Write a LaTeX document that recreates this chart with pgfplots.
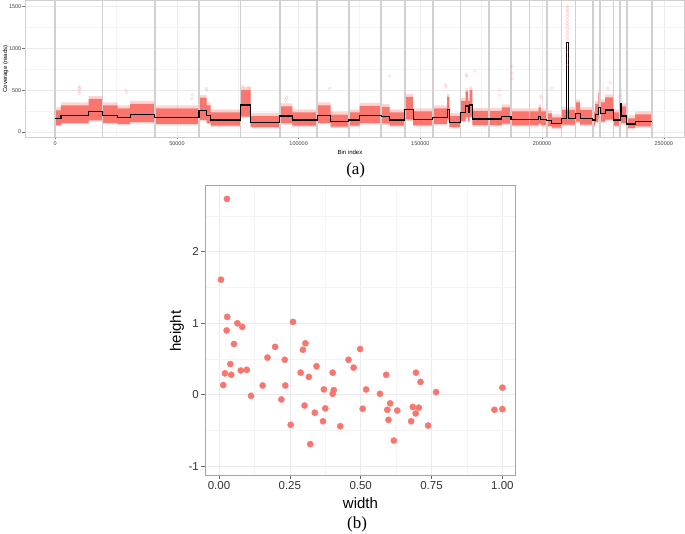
\documentclass[border=0pt]{standalone}
\usepackage{pgfplots}
\pgfplotsset{compat=1.18}
\usepackage{pgfplotstable}
\usepgfplotslibrary{fillbetween}
\usepackage{fontspec}
\setmainfont{Liberation Sans}
\newfontfamily\timesfont{Liberation Serif}
\definecolor{ggred}{HTML}{F8766D}
\definecolor{gridmaj}{HTML}{EBEBEB}
\definecolor{gridmin}{HTML}{F4F4F4}
\definecolor{bline}{HTML}{D0D0D0}
\definecolor{frameA}{HTML}{CFCFCF}
\definecolor{frameB}{HTML}{A6A6A6}

\pgfplotstableread{
x lo hi lo2 hi2
0 86 260 70 295
2340 110 320 94 355
13700 140 395 124 430
19440 110 320 94 355
25600 96 284 80 319
30770 117 337 101 372
40900 96 284 80 319
59070 146 410 130 445
62230 110 320 94 355
63870 76 235 60 270
76170 184 505 168 540
80280 60 194 44 229
92300 105 307 89 342
97380 76 235 60 270
107640 110 320 94 355
113100 65 208 49 243
120600 76 235 60 270
125000 107 313 91 348
133890 102 301 86 336
137400 76 235 60 270
143570 150 421 134 456
147000 81 248 65 283
155060 96 284 80 319
160960 150 421 134 456
161900 60 194 44 229
166540 131 373 115 408
168600 177 487 161 522
169600 131 373 115 408
170240 184 505 168 540
171340 83 253 67 288
183500 100 295 84 330
187220 81 248 65 283
198550 100 295 84 330
199520 81 248 65 283
201980 71 223 55 258
204030 52 176 36 211
207970 88 266 72 301
213720 124 355 108 390
215640 88 266 72 301
220850 76 235 60 270
221800 117 337 101 372
223150 169 467 153 502
223850 124 355 108 390
225900 148 415 132 450
229300 76 235 60 270
232050 196 535 180 570
232500 105 307 89 342
234800 48 164 32 199
238200 67 212 51 247
245060 67 212 51 247
}\band

\pgfplotstableread{
x y
0 160
2340 200
13700 250
19440 200
25600 176
30770 211
40900 176
59070 260
62230 200
63870 143
76170 323
80280 116
92300 191
97380 143
107640 200
113100 125
120600 143
125000 195
133890 187
137400 143
143570 267
147000 152
155060 176
160960 267
161900 116
166540 235
168600 311
169600 235
170240 323
171340 155
183500 183
187220 152
198550 183
199520 152
201980 135
204030 104
207970 164
210180 1073
210720 164
213720 223
215640 164
220850 143
221800 211
223150 298
223850 223
225900 263
229300 143
232050 343
232500 191
234800 96
238200 128
245060 128
}\steps

\pgfplotstableread{
x y
9850 542
9850 520
9900 490
9800 465
29000 502
29200 470
56360 447
56000 400
62100 523
62300 500
77100 550
79600 530
94600 383
95000 410
112800 522
137400 670
160400 562
160500 540
168900 682
169000 670
172300 730
182400 502
182400 442
187600 790
187700 700
187600 640
199600 430
199600 407
204000 522
227950 590
227000 520
232000 430
210400 1500
210450 1470
210350 1440
210500 1410
210400 1380
210450 1340
210380 1300
210500 1270
210420 1230
210460 1190
210400 1150
210450 1110
210350 960
210500 880
210420 800
}\outl

\pgfplotstableread{
x y
0.028 2.74
0.007 1.61
0.029 1.09
0.027 0.90
0.065 1.00
0.082 0.95
0.053 0.71
0.040 0.43
0.021 0.30
0.043 0.28
0.077 0.34
0.098 0.35
0.015 0.136
0.113 -0.014
0.154 0.13
0.171 0.52
0.198 0.67
0.220 -0.065
0.232 0.49
0.234 0.13
0.253 -0.42
0.261 1.02
0.288 0.31
0.296 0.63
0.305 0.72
0.302 -0.15
0.317 0.25
0.322 -0.69
0.338 -0.25
0.344 0.40
0.367 -0.37
0.370 0.075
0.375 -0.19
0.401 0.31
0.401 0.014
0.405 0.066
0.428 -0.44
0.457 0.49
0.475 0.38
0.498 0.64
0.507 -0.195
0.519 0.075
0.568 0.014
0.590 0.28
0.594 -0.21
0.598 -0.35
0.604 -0.12
0.617 -0.64
0.629 -0.22
0.678 -0.37
0.684 -0.17
0.694 -0.26
0.695 0.31
0.705 -0.18
0.711 0.18
0.738 -0.43
0.766 0.038
0.972 -0.21
1.0 0.10
1.0 -0.20
}\scat

\begin{document}
\begin{tikzpicture}
% ---------- panel (a)
\begin{axis}[
  at={(25pt,-137pt)}, anchor=south west,
  scale only axis, width=659pt, height=137pt,
  xmin=-12430, xmax=258300, ymin=-60, ymax=1580,
  scaled ticks=false,
  xtick={0,50000,100000,150000,200000,250000},
  xticklabels={0,50000,100000,150000,200000,250000},
  ytick={0,500,1000,1500}, yticklabels={0,500,1000,1500},
  minor xtick={25000,75000,125000,175000,225000},
  minor ytick={250,750,1250},
  grid=both,
  major grid style={gridmaj, line width=0.5pt},
  minor grid style={gridmin, line width=0.4pt},
  axis line style={frameA, line width=0.7pt},
  tick align=outside, tick pos=left,
  major tick length=2.5pt, minor tick length=0pt,
  tick style={black!55, line width=0.5pt},
  ticklabel style={font=\fontsize{5.5}{6.5}\selectfont, text=black!75},
  xticklabel style={inner sep=1.5pt},
  yticklabel style={inner sep=1pt},
]
\addplot[const plot, draw=none, name path=H2, forget plot] table[x=x, y=hi2] {\band};
\addplot[const plot, draw=none, name path=L2, forget plot] table[x=x, y=lo2] {\band};
\addplot[const plot, draw=none, name path=H, forget plot] table[x=x, y=hi] {\band};
\addplot[const plot, draw=none, name path=L, forget plot] table[x=x, y=lo] {\band};
\addplot[fill=ggred, fill opacity=0.3, draw=none] fill between[of=H2 and L2];
\addplot[fill=ggred, draw=none] fill between[of=H and L];
\addplot[only marks, mark=o, mark size=1.5pt, color=ggred, opacity=0.35, mark options={line width=0.4pt}] table {\outl};
\pgfplotsinvokeforeach{0,19440,40900,59070,76170,92300,107640,120600,133890,143570,155060,166540,178310,187220,194850,201980,207970,213720,220850,223850,229300,232050,234800,245060}{
  \addplot[draw=bline, line width=1.6pt, mark=none, forget plot] coordinates {(#1,-60) (#1,1580)};
}
\addplot[const plot, draw=black, mark=none, line width=1.1pt] table {\steps};
\end{axis}
\node[font=\fontsize{6}{7}\selectfont, text=black] at (350pt,-152.3pt) {Bin index};
\node[font=\fontsize{6}{7}\selectfont, text=black, rotate=90] at (5.5pt,-69pt) {Coverage (reads)};
\node[font=\timesfont\fontsize{17}{20}\selectfont] at (355.7pt,-170pt) {(a)};
% ---------- panel (b)
\begin{axis}[
  at={(205pt,-475.3pt)}, anchor=south west,
  scale only axis, width=310.7pt, height=290pt,
  xmin=-0.0494, xmax=1.047, ymin=-1.126, ymax=2.93,
  xtick={0,0.25,0.5,0.75,1}, xticklabels={0.00,0.25,0.50,0.75,1.00},
  ytick={-1,0,1,2}, yticklabels={-1,0,1,2},
  minor xtick={0.125,0.375,0.625,0.875},
  minor ytick={-0.5,0.5,1.5,2.5},
  grid=both,
  major grid style={gridmaj, line width=0.6pt},
  minor grid style={gridmin, line width=0.5pt},
  axis line style={frameB, line width=0.8pt},
  tick align=outside, tick pos=left,
  major tick length=4pt, minor tick length=0pt,
  tick style={black!60, line width=0.6pt},
  ticklabel style={font=\fontsize{11.5}{13}\selectfont, text=black!80},
  xticklabel style={inner sep=2pt},
  yticklabel style={inner sep=2pt},
]
\addplot[only marks, color=ggred, mark=*, mark size=3.1pt, mark options={draw=ggred, fill=ggred, line width=0.4pt}] table {\scat};
\end{axis}
\node[font=\fontsize{15}{18}\selectfont] at (360.5pt,-503pt) {width};
\node[font=\fontsize{15}{18}\selectfont, rotate=90] at (177pt,-331pt) {height};
\node[font=\timesfont\fontsize{17}{20}\selectfont] at (357pt,-524pt) {(b)};
\pgfresetboundingbox
\path[use as bounding box] (0,0) rectangle (685pt,-534pt);
\end{tikzpicture}
\end{document}
